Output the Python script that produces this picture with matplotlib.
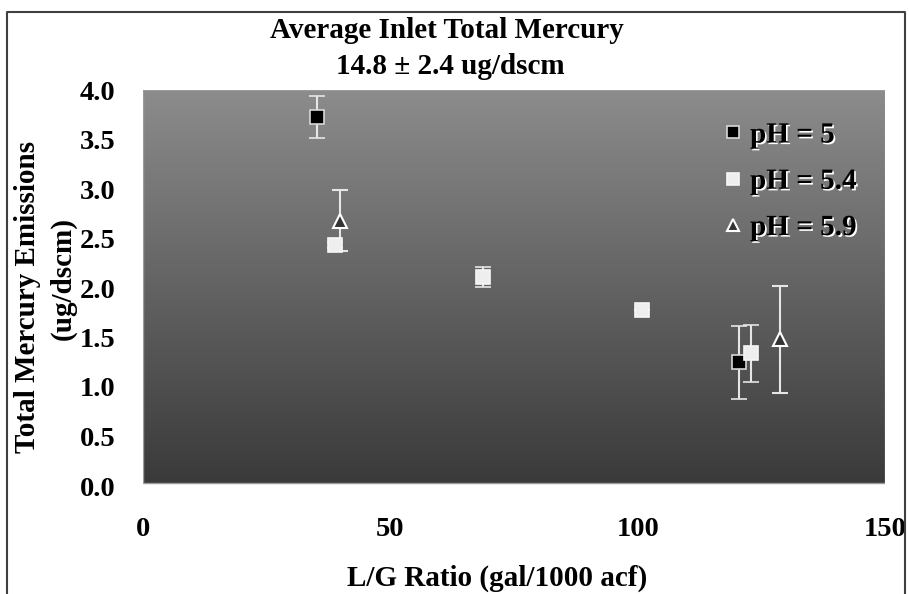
import numpy as np
import matplotlib
matplotlib.use("Agg")
import matplotlib.pyplot as plt
import matplotlib.patheffects as pe
from matplotlib.colors import LinearSegmentedColormap
from matplotlib.patches import Rectangle
from matplotlib.lines import Line2D

plt.rcParams['font.family'] = ['Liberation Serif', 'DejaVu Serif']
plt.rcParams['font.weight'] = 'bold'

# data: L/G ratio, total Hg emissions, error (+-)
ph5_x = [35.1, 120.5]
ph5_y = [3.73, 1.25]
ph5_err = [0.21, 0.37]

ph54_x = [38.8, 68.7, 100.9, 122.9]
ph54_y = [2.43, 2.11, 1.78, 1.34]
ph54_err = [0.03, 0.10, 0.0, 0.29]

ph59_x = [39.8, 128.8]
ph59_y = [2.68, 1.48]
ph59_err = [0.31, 0.54]

labels = ['pH = 5', 'pH = 5.4', 'pH = 5.9']
x_ticks = [0, 50, 100, 150]
y_ticks = [0.0, 0.5, 1.0, 1.5, 2.0, 2.5, 3.0, 3.5, 4.0]

W, H = 909, 594
fig = plt.figure(figsize=(W / 100, H / 100), dpi=100)
ax = fig.add_axes([143 / W, (H - 486) / H, 742 / W, 396 / H])

# gradient plot area fill
cmap = LinearSegmentedColormap.from_list('bg', ['#3a3a3a', '#8c8c8c'])
ax.imshow(np.linspace(0, 1, 256).reshape(-1, 1), extent=[0, 150, 0.03, 4.0],
          origin='lower', aspect='auto', cmap=cmap, zorder=0)
ax.add_patch(Rectangle((0, 0.03), 150, 3.97, fill=False, edgecolor='#9a9a9a',
                       lw=1, zorder=1))

err_kw = dict(ecolor='#e6e6e6', elinewidth=1.5, capsize=6, capthick=1.5,
              linestyle='none', markersize=10, zorder=3)
ax.errorbar(ph5_x, ph5_y, yerr=ph5_err, marker='s', mfc='#000000',
            mec='#d8d8d8', mew=1.2, label=labels[0], **err_kw)
ax.errorbar(ph54_x, ph54_y, yerr=ph54_err, marker='s', mfc='#eeeeee',
            mec='#f6f6f6', mew=1.2, label=labels[1], **err_kw)
ax.errorbar(ph59_x, ph59_y, yerr=ph59_err, marker='^', mfc='#333333',
            mec='#ffffff', mew=1.5, label=labels[2], **err_kw)

ax.set_xlim(0, 150)
ax.set_ylim(0, 4)
ax.set_xticks(x_ticks)
ax.set_yticks(y_ticks)
ax.set_xticklabels([str(t) for t in x_ticks])
ax.set_yticklabels(['%.1f' % t for t in y_ticks])
ax.tick_params(length=0, labelsize=20.5)
ax.tick_params(axis='y', pad=20)
ax.tick_params(axis='x', pad=22)
for s in ax.spines.values():
    s.set_visible(False)

handles, lbls = ax.get_legend_handles_labels()
handles = [h[0] for h in handles]
leg = ax.legend(handles, lbls, loc='upper left', bbox_to_anchor=(0.767, 0.95),
                frameon=False, fontsize=21, markerscale=0.9, handlelength=0.6,
                handletextpad=0.3, labelspacing=0.66, borderaxespad=0)
for t in leg.get_texts():
    t.set_path_effects([pe.withSimplePatchShadow(offset=(1.2, -1.2),
                                                 shadow_rgbFace='white', alpha=1)])

fig.text(447 / W, 1 - 30 / H, 'Average Inlet Total Mercury', ha='center',
         va='center', fontsize=21)
fig.text(450 / W, 1 - 67 / H, '14.8 \u00b1 2.4 ug/dscm', ha='center',
         va='center', fontsize=21)
fig.text(28 / W, 1 - 297 / H, 'Total Mercury Emissions', rotation=90,
         ha='center', va='center', fontsize=21)
fig.text(63 / W, 1 - 278 / H, '(ug/dscm)', rotation=90, ha='center',
         va='center', fontsize=21)
fig.text(497 / W, 1 - 578 / H, 'L/G Ratio (gal/1000 acf)', ha='center',
         va='center', fontsize=21)

# chart border (bottom edge cut off)
bx = [7 / W, 7 / W, 905 / W, 905 / W]
by = [0, 1 - 12 / H, 1 - 12 / H, 0]
fig.add_artist(Line2D(bx, by, transform=fig.transFigure, color='#404040', lw=1.5))

fig.savefig('out.png', dpi=100)
